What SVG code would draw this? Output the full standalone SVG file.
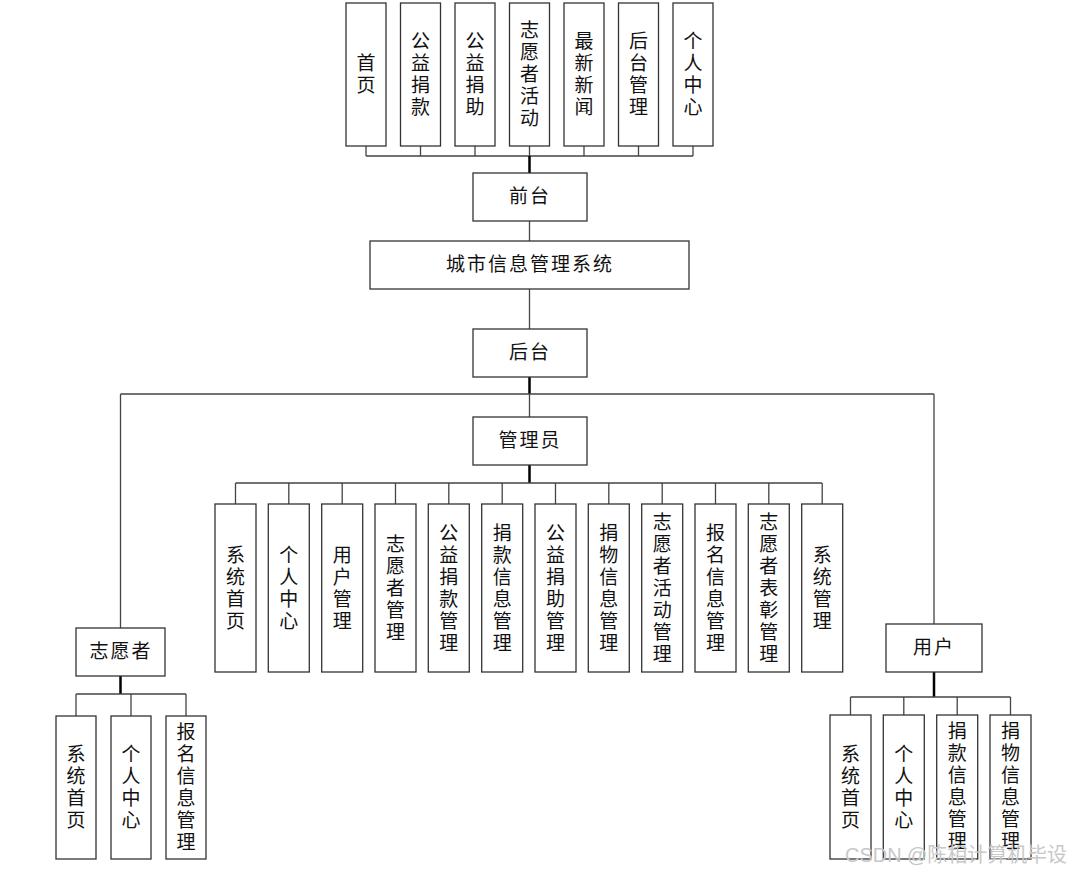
<svg xmlns="http://www.w3.org/2000/svg" width="1071" height="871" viewBox="0 0 1071 871">
<style>
.box{fill:#fff;stroke:#333;stroke-width:1.3}
.ln{stroke:#444;stroke-width:1.3;fill:none}
.tk{stroke:#000;stroke-width:2.5;fill:none}
text{font-family:"Liberation Sans","Noto Sans CJK SC",sans-serif;font-size:19px;fill:#111;text-anchor:middle;dominant-baseline:central}
.wm{fill:#c8c8c8;font-size:20px;text-anchor:start;dominant-baseline:auto}
</style>
<rect width="1071" height="871" fill="#fff"/>
<g id="connectors">
<path class="ln" d="M366 146V156M420.5 146V156M475 146V156M529.5 146V156M584 146V156M638.5 146V156M693 146V156M366 156H693"/>
<path class="tk" d="M529.5 156V173"/>
<path class="ln" d="M529.5 221V241M529.5 289V329"/>
<path class="tk" d="M529.5 377V394"/>
<path class="ln" d="M529.5 394V417M120.5 394H934M120.5 394V628M934 394V624"/>
<path class="tk" d="M529.5 465V483"/>
<path class="ln" d="M235.5 483H822M235.5 483V504M288.8 483V504M342.2 483V504M395.5 483V504M448.8 483V504M502.2 483V504M555.5 483V504M608.8 483V504M662.2 483V504M715.5 483V504M768.8 483V504M822.2 483V504"/>
<path class="tk" d="M120.5 676V694M934 672V697"/>
<path class="ln" d="M76 694H186M76 694V716M131 694V716M186 694V716"/>
<path class="ln" d="M850.5 697H1010.5M850.5 697V715M903.8 697V715M957.2 697V715M1010.5 697V715"/>
</g>
<g id="n_shouye"><rect class="box" x="346" y="3" width="40" height="143"/><text x="366" y="63.5">首</text><text x="366" y="85.5">页</text></g>
<g id="n_gyjk"><rect class="box" x="400.5" y="3" width="40" height="143"/><text x="420.5" y="41.5">公</text><text x="420.5" y="63.5">益</text><text x="420.5" y="85.5">捐</text><text x="420.5" y="107.5">款</text></g>
<g id="n_gyjz"><rect class="box" x="455" y="3" width="40" height="143"/><text x="475" y="41.5">公</text><text x="475" y="63.5">益</text><text x="475" y="85.5">捐</text><text x="475" y="107.5">助</text></g>
<g id="n_zyzhd"><rect class="box" x="509.5" y="3" width="40" height="143"/><text x="529.5" y="30.5">志</text><text x="529.5" y="52.5">愿</text><text x="529.5" y="74.5">者</text><text x="529.5" y="96.5">活</text><text x="529.5" y="118.5">动</text></g>
<g id="n_zxxw"><rect class="box" x="564" y="3" width="40" height="143"/><text x="584" y="41.5">最</text><text x="584" y="63.5">新</text><text x="584" y="85.5">新</text><text x="584" y="107.5">闻</text></g>
<g id="n_htgl"><rect class="box" x="618.5" y="3" width="40" height="143"/><text x="638.5" y="41.5">后</text><text x="638.5" y="63.5">台</text><text x="638.5" y="85.5">管</text><text x="638.5" y="107.5">理</text></g>
<g id="n_grzx"><rect class="box" x="673" y="3" width="40" height="143"/><text x="693" y="41.5">个</text><text x="693" y="63.5">人</text><text x="693" y="85.5">中</text><text x="693" y="107.5">心</text></g>
<g id="n_qiantai"><rect class="box" x="473" y="173" width="114" height="48"/><text x="530" y="196.5" letter-spacing="2">前台</text></g>
<g id="n_system"><rect class="box" x="370" y="241" width="319" height="48"/><text x="530" y="264.5" letter-spacing="2">城市信息管理系统</text></g>
<g id="n_houtai"><rect class="box" x="473" y="329" width="114" height="48"/><text x="530" y="352.5" letter-spacing="2">后台</text></g>
<g id="n_admin"><rect class="box" x="473" y="417" width="114" height="48"/><text x="530" y="440.5" letter-spacing="2">管理员</text></g>
<g id="a1"><rect class="box" x="215" y="504" width="41" height="168"/><text x="235.5" y="555">系</text><text x="235.5" y="577">统</text><text x="235.5" y="599">首</text><text x="235.5" y="621">页</text></g>
<g id="a2"><rect class="box" x="268.3" y="504" width="41" height="168"/><text x="288.8" y="555">个</text><text x="288.8" y="577">人</text><text x="288.8" y="599">中</text><text x="288.8" y="621">心</text></g>
<g id="a3"><rect class="box" x="321.7" y="504" width="41" height="168"/><text x="342.2" y="555">用</text><text x="342.2" y="577">户</text><text x="342.2" y="599">管</text><text x="342.2" y="621">理</text></g>
<g id="a4"><rect class="box" x="375" y="504" width="41" height="168"/><text x="395.5" y="544">志</text><text x="395.5" y="566">愿</text><text x="395.5" y="588">者</text><text x="395.5" y="610">管</text><text x="395.5" y="632">理</text></g>
<g id="a5"><rect class="box" x="428.3" y="504" width="41" height="168"/><text x="448.8" y="533">公</text><text x="448.8" y="555">益</text><text x="448.8" y="577">捐</text><text x="448.8" y="599">款</text><text x="448.8" y="621">管</text><text x="448.8" y="643">理</text></g>
<g id="a6"><rect class="box" x="481.7" y="504" width="41" height="168"/><text x="502.2" y="533">捐</text><text x="502.2" y="555">款</text><text x="502.2" y="577">信</text><text x="502.2" y="599">息</text><text x="502.2" y="621">管</text><text x="502.2" y="643">理</text></g>
<g id="a7"><rect class="box" x="535" y="504" width="41" height="168"/><text x="555.5" y="533">公</text><text x="555.5" y="555">益</text><text x="555.5" y="577">捐</text><text x="555.5" y="599">助</text><text x="555.5" y="621">管</text><text x="555.5" y="643">理</text></g>
<g id="a8"><rect class="box" x="588.3" y="504" width="41" height="168"/><text x="608.8" y="533">捐</text><text x="608.8" y="555">物</text><text x="608.8" y="577">信</text><text x="608.8" y="599">息</text><text x="608.8" y="621">管</text><text x="608.8" y="643">理</text></g>
<g id="a9"><rect class="box" x="641.7" y="504" width="41" height="168"/><text x="662.2" y="522">志</text><text x="662.2" y="544">愿</text><text x="662.2" y="566">者</text><text x="662.2" y="588">活</text><text x="662.2" y="610">动</text><text x="662.2" y="632">管</text><text x="662.2" y="654">理</text></g>
<g id="a10"><rect class="box" x="695" y="504" width="41" height="168"/><text x="715.5" y="533">报</text><text x="715.5" y="555">名</text><text x="715.5" y="577">信</text><text x="715.5" y="599">息</text><text x="715.5" y="621">管</text><text x="715.5" y="643">理</text></g>
<g id="a11"><rect class="box" x="748.3" y="504" width="41" height="168"/><text x="768.8" y="522">志</text><text x="768.8" y="544">愿</text><text x="768.8" y="566">者</text><text x="768.8" y="588">表</text><text x="768.8" y="610">彰</text><text x="768.8" y="632">管</text><text x="768.8" y="654">理</text></g>
<g id="a12"><rect class="box" x="801.7" y="504" width="41" height="168"/><text x="822.2" y="555">系</text><text x="822.2" y="577">统</text><text x="822.2" y="599">管</text><text x="822.2" y="621">理</text></g>
<g id="n_volunteer"><rect class="box" x="76" y="628" width="89" height="48"/><text x="121" y="651.5" letter-spacing="2">志愿者</text></g>
<g id="v1"><rect class="box" x="56" y="716" width="40" height="143"/><text x="76" y="754.5">系</text><text x="76" y="776.5">统</text><text x="76" y="798.5">首</text><text x="76" y="820.5">页</text></g>
<g id="v2"><rect class="box" x="111" y="716" width="40" height="143"/><text x="131" y="754.5">个</text><text x="131" y="776.5">人</text><text x="131" y="798.5">中</text><text x="131" y="820.5">心</text></g>
<g id="v3"><rect class="box" x="166" y="716" width="40" height="143"/><text x="186" y="732.5">报</text><text x="186" y="754.5">名</text><text x="186" y="776.5">信</text><text x="186" y="798.5">息</text><text x="186" y="820.5">管</text><text x="186" y="842.5">理</text></g>
<g id="n_user"><rect class="box" x="886" y="624" width="96" height="48"/><text x="934" y="647.5" letter-spacing="2">用户</text></g>
<g id="u1"><rect class="box" x="830" y="715" width="41" height="144"/><text x="850.5" y="754">系</text><text x="850.5" y="776">统</text><text x="850.5" y="798">首</text><text x="850.5" y="820">页</text></g>
<g id="u2"><rect class="box" x="883.3" y="715" width="41" height="144"/><text x="903.8" y="754">个</text><text x="903.8" y="776">人</text><text x="903.8" y="798">中</text><text x="903.8" y="820">心</text></g>
<g id="u3"><rect class="box" x="936.7" y="715" width="41" height="144"/><text x="957.2" y="731">捐</text><text x="957.2" y="753">款</text><text x="957.2" y="775">信</text><text x="957.2" y="797">息</text><text x="957.2" y="819">管</text><text x="957.2" y="841">理</text></g>
<g id="u4"><rect class="box" x="990" y="715" width="41" height="144"/><text x="1010.5" y="731">捐</text><text x="1010.5" y="753">物</text><text x="1010.5" y="775">信</text><text x="1010.5" y="797">息</text><text x="1010.5" y="819">管</text><text x="1010.5" y="841">理</text></g>
<text class="wm" x="845" y="862" textLength="222" lengthAdjust="spacingAndGlyphs">CSDN @陈相计算机毕设</text>
</svg>
